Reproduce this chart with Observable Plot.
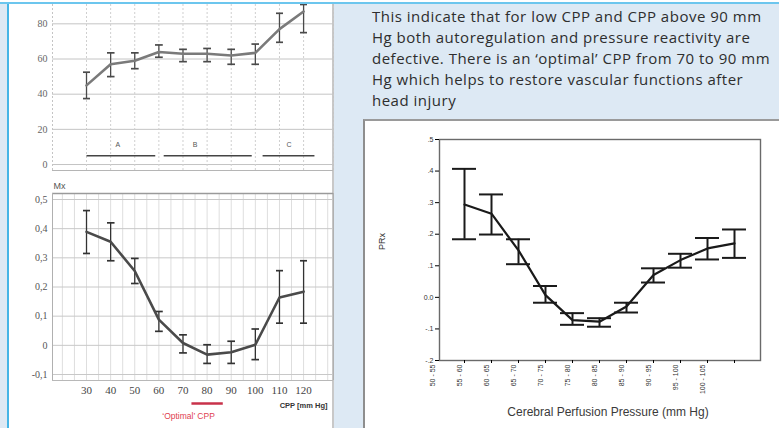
<!DOCTYPE html>
<html>
<head>
<meta charset="utf-8">
<script src="https://cdn.jsdelivr.net/npm/d3@7"></script>
<script src="https://cdn.jsdelivr.net/npm/@observablehq/plot@0.6"></script>
<style>
  html, body { margin: 0; padding: 0; }
  body { width: 779px; height: 428px; position: relative; overflow: hidden; background: #ffffff; }
  #bluebg { position: absolute; left: 0; top: 3px; width: 779px; height: 425px; background: #dde9f4; }
  #topline { position: absolute; left: 0; top: 2px; width: 779px; height: 2px; background: #6cc6ee; }
  #leftpanel { position: absolute; left: 7px; top: 4px; width: 327px; height: 424px; background: #ffffff;
               border-left: 2px solid #45b5e6; border-right: 2px solid #c8c8c8; box-sizing: border-box; }
  #note { position: absolute; left: 372px; top: 6px; width: 440px; font-family: "Open Sans", sans-serif;
          font-size: 15px; letter-spacing: 0.5px; line-height: 21px; color: #2e2e2e; white-space: nowrap; }
  #rightbox { position: absolute; left: 363px; top: 119px; width: 416px; height: 309px; background: #ffffff;
              border-left: 2px solid #8e8e8e; border-top: 2px solid #9a9a9a; box-sizing: border-box; }
  .chart { position: absolute; }
  .chart svg { display: block; }
</style>
</head>
<body>
<div id="bluebg"></div>
<div id="topline"></div>
<div id="leftpanel"></div>
<div id="note">This indicate that for low CPP and CPP above 90 mm<br>Hg both autoregulation and pressure reactivity are<br>defective. There is an ‘optimal’ CPP from 70 to 90 mm<br>Hg which helps to restore vascular functions after<br>head injury</div>
<div id="rightbox"></div>
<div id="c1" class="chart" style="left:9px; top:4px;"></div>
<div id="c2" class="chart" style="left:9px; top:172px;"></div>
<div id="c3" class="chart" style="left:365px; top:121px;"></div>
<script>
// ---------- data: left charts (CPP bins) ----------
const cpp = [30, 40, 50, 60, 70, 80, 90, 100, 110, 120];

// top-left panel (0-80 scale)
const topMean = [45, 57, 59, 64, 63, 63, 62, 63.5, 77, 87];
const topLow  = [37.5, 50, 54.5, 61, 58.5, 58.5, 57, 57, 69.5, 75];
const topHigh = [52.5, 63.5, 63.5, 68, 65.5, 66, 65.5, 68.5, 86, 91];
const topTicks = [0, 20, 40, 60, 80];

// A / B / C group bars
const groupLabels = ["A", "B", "C"];
const groupStart = [30, 62, 103];
const groupEnd = [58.5, 98.5, 124.5];
const groupBarValue = 5;
const groupLabelX = [43, 75, 114];
const groupLabelValue = 11;

// bottom-left panel (Mx)
const mxMean = [0.389, 0.355, 0.255, 0.088, 0.008, -0.032, -0.024, 0.002, 0.164, 0.184];
const mxLow  = [0.315, 0.290, 0.212, 0.048, -0.026, -0.062, -0.062, -0.049, 0.076, 0.076];
const mxHigh = [0.462, 0.420, 0.298, 0.116, 0.036, 0.002, 0.014, 0.056, 0.256, 0.290];
const mxTicks = [-0.1, 0, 0.1, 0.2, 0.3, 0.4, 0.5];
const mxTickLabels = ["-0,1", "0", "0,1", "0,2", "0,3", "0,4", "0,5"];
const optimalCpp = [73.5, 86.5];

// ---------- data: right chart (PRx) ----------
const prxBins = ["50 - 55", "55 - 60", "60 - 65", "65 - 70", "70 - 75", "75 - 80",
                 "80 - 85", "85 - 90", "90 - 95", "95 - 100", "100 - 105"];
const prxMean = [0.294, 0.265, 0.149, 0.007, -0.072, -0.077, -0.029, 0.071, 0.118, 0.155, 0.171];
const prxLow  = [0.184, 0.199, 0.105, -0.017, -0.087, -0.093, -0.048, 0.047, 0.094, 0.120, 0.125];
const prxHigh = [0.407, 0.326, 0.184, 0.036, -0.050, -0.066, -0.017, 0.092, 0.138, 0.188, 0.215];
const prxTicks = [-0.2, -0.1, 0, 0.1, 0.2, 0.3, 0.4, 0.5];
const prxTickLabels = ["-.2", "-.1", "0.0", ".1", ".2", ".3", ".4", ".5"];

// ---------- chart 1: top-left ----------
const xDom = [15.9, 132.4];
const idxL = d3.range(cpp.length);
const c1 = Plot.plot({
  width: 325, height: 168,
  marginTop: 0, marginBottom: 2, marginLeft: 43, marginRight: 1,
  style: { background: "transparent", fontFamily: "Liberation Serif, serif" },
  x: { domain: xDom, axis: null },
  y: { domain: [-3.4, 91], axis: null },
  marks: [
    Plot.gridY(topTicks, { stroke: "#c4c4c4", strokeOpacity: 1 }),
    Plot.gridX(cpp, { stroke: "#cfcfcf", strokeOpacity: 1, strokeDasharray: "2,2" }),
    Plot.ruleX([xDom[0], xDom[1]], { stroke: "#c4c4c4", strokeDasharray: "2,2" }),
    Plot.ruleY([-3.4], { stroke: "#b5b5b5", strokeWidth: 1.2 }),
    Plot.axisY(topTicks, { tickSize: 0, tickPadding: 5, fontSize: 10, fill: "#666" }),
    Plot.link(idxL, { x1: i => cpp[i], x2: i => cpp[i], y1: i => topLow[i], y2: i => topHigh[i],
      stroke: "#4a4a4a", strokeWidth: 1.3, markerStart: "tick", markerEnd: "tick" }),
    Plot.line(idxL, { x: i => cpp[i], y: i => topMean[i], stroke: "#7a7a7a", strokeWidth: 2.6 }),
    Plot.link(groupLabels, { x1: (d, i) => groupStart[i], x2: (d, i) => groupEnd[i],
      y1: () => groupBarValue, y2: () => groupBarValue, stroke: "#444", strokeWidth: 1.6 }),
    Plot.text(groupLabels, { x: (d, i) => groupLabelX[i], y: () => groupLabelValue, text: d => d,
      fontSize: 7, fill: "#555", fontFamily: "Liberation Sans, sans-serif" })
  ]
});
document.getElementById("c1").appendChild(c1);

// ---------- chart 2: bottom-left (Mx) ----------
const mxDom = [-0.1206, 0.5206];
const c2 = Plot.plot({
  width: 325, height: 256,
  marginTop: 21, marginBottom: 48, marginLeft: 43, marginRight: 1,
  style: { background: "transparent", fontFamily: "Liberation Serif, serif" },
  x: { domain: xDom, axis: null },
  y: { domain: mxDom, axis: null },
  marks: [
    Plot.gridX(d3.range(20, 133, 5), { stroke: "#dedede", strokeOpacity: 1 }),
    Plot.gridY(mxTicks, { stroke: "#c8c8c8", strokeOpacity: 1 }),
    Plot.ruleY([mxDom[1]], { stroke: "#9a9a9a", strokeWidth: 1.6 }),
    Plot.ruleY([mxDom[0]], { stroke: "#b8b8b8", strokeWidth: 1 }),
    Plot.ruleX([xDom[0]], { stroke: "#b0b0b0", strokeWidth: 1 }),
    Plot.ruleX([xDom[1]], { stroke: "#b0b0b0", strokeWidth: 1.2 }),
    Plot.axisY(mxTicks, { tickSize: 0, tickPadding: 5, fontSize: 10, fill: "#555",
      tickFormat: (d, i) => mxTickLabels[i] }),
    Plot.axisX(cpp, { tickSize: 0, tickPadding: 6, fontSize: 11, fill: "#444" }),
    Plot.text(["Mx"], { frameAnchor: "top-left", dx: 1, dy: -11, textAnchor: "start",
      fontSize: 9, fill: "#555", fontFamily: "Liberation Sans, sans-serif" }),
    Plot.link(idxL, { x1: i => cpp[i], x2: i => cpp[i], y1: i => mxLow[i], y2: i => mxHigh[i],
      stroke: "#333", strokeWidth: 1.3, markerStart: "tick", markerEnd: "tick" }),
    Plot.line(idxL, { x: i => cpp[i], y: i => mxMean[i], stroke: "#4a4a4a", strokeWidth: 2.6 }),
    Plot.link([optimalCpp], { x1: d => d[0], x2: d => d[1], y1: () => mxDom[0], y2: () => mxDom[0],
      dy: 23, stroke: "#c8324a", strokeWidth: 2.5 }),
    Plot.text(["‘Optimal’ CPP"], { x: () => 72.3, frameAnchor: "bottom", dy: 38, fontSize: 8.5,
      fill: "#e04050", fontFamily: "Liberation Sans, sans-serif" }),
    Plot.text(["CPP [mm Hg]"], { frameAnchor: "bottom-right", dx: -6, dy: 27, textAnchor: "end",
      fontSize: 7.5, fontWeight: "bold", fill: "#333", fontFamily: "Liberation Sans, sans-serif" })
  ]
});
document.getElementById("c2").appendChild(c2);

// ---------- chart 3: right (PRx) ----------
const idxR = d3.range(prxBins.length);
const c3 = Plot.plot({
  width: 414, height: 307,
  marginTop: 18, marginBottom: 68, marginLeft: 74, marginRight: 19,
  style: { background: "transparent", fontFamily: "Liberation Sans, sans-serif" },
  x: { type: "band", domain: idxR, paddingInner: 0.1, paddingOuter: 0.3, axis: null },
  y: { domain: [-0.2, 0.5], axis: null },
  marks: [
    Plot.frame({ stroke: "#6a6a6a", strokeWidth: 1.4 }),
    Plot.axisY(prxTicks, { tickSize: 4, tickPadding: 2, fontSize: 7, fill: "#333",
      tickFormat: (d, i) => prxTickLabels[i] }),
    Plot.axisX(idxR, { tickSize: 3, tickFormat: () => "" }),
    Plot.ruleX(idxR, { x: i => i, y1: i => prxLow[i], y2: i => prxHigh[i], stroke: "#1a1a1a", strokeWidth: 2 }),
    Plot.tickY(idxR, { x: i => i, y: i => prxLow[i], stroke: "#1a1a1a", strokeWidth: 2 }),
    Plot.tickY(idxR, { x: i => i, y: i => prxHigh[i], stroke: "#1a1a1a", strokeWidth: 2 }),
    Plot.line(idxR, { x: i => i, y: i => prxMean[i], stroke: "#1a1a1a", strokeWidth: 2.2 }),
    Plot.text(prxBins, { x: (d, i) => i, frameAnchor: "bottom", rotate: -90, textAnchor: "end",
      dx: -30, dy: 4, fontSize: 7, fill: "#333" }),
    Plot.text(["PRx"], { frameAnchor: "left", dx: -57, rotate: -90, fontSize: 9, fill: "#333" }),
    Plot.text(["Cerebral Perfusion Pressure (mm Hg)"], { frameAnchor: "bottom", dx: 8, dy: 55,
      fontSize: 12, fill: "#3a3a3a" })
  ]
});
document.getElementById("c3").appendChild(c3);
</script>
</body>
</html>
